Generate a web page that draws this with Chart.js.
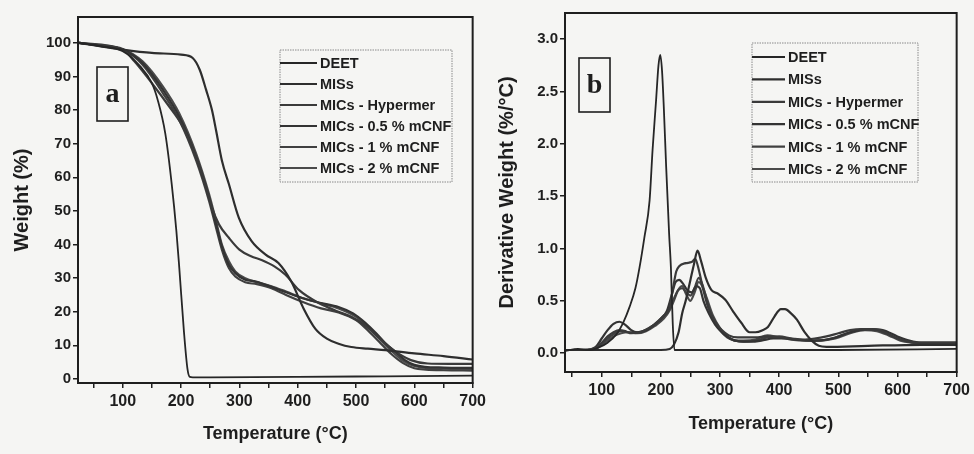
<!DOCTYPE html>
<html>
<head>
<meta charset="utf-8">
<script src="https://cdn.jsdelivr.net/npm/chart.js@4.4.1/dist/chart.umd.min.js"></script>
<style>
  html, body { margin: 0; padding: 0; background: #f5f5f3; }
  #wrap { position: relative; width: 974px; height: 454px; overflow: hidden; }
  #tga { position: absolute; left: 0; top: 0; }
  #dtg { position: absolute; left: 490px; top: 0; }
</style>
</head>
<body>
<div id="wrap">
  <canvas id="tga" width="490" height="454"></canvas>
  <canvas id="dtg" width="484" height="454"></canvas>
</div>
<script>
// ================= Data =================
const seriesNames = ["DEET", "MISs", "MICs - Hypermer", "MICs - 0.5 % mCNF", "MICs - 1 % mCNF", "MICs - 2 % mCNF"];
const seriesColors = ["#262626", "#2e2e2e", "#3a3a3a", "#333333", "#404040", "#4a4a4a"];

const xTicks = [50, 100, 150, 200, 250, 300, 350, 400, 450, 500, 550, 600, 650, 700];
const xTickLabels = [100, 200, 300, 400, 500, 600, 700];
const tgaYTicks = [0, 10, 20, 30, 40, 50, 60, 70, 80, 90, 100];
const dtgYTicks = [0, 0.5, 1.0, 1.5, 2.0, 2.5, 3.0];

// (a) weight %
const tgaDeetT = [25, 60, 100, 130, 150, 160, 173, 184, 192, 197, 205, 211, 215, 220, 250, 400, 550, 700];
const tgaDeetW = [100, 99, 97.5, 93, 88, 83, 73, 58, 44, 33, 14, 3, 0.6, 0.5, 0.5, 0.6, 0.8, 1.0];
const tgaMisT = [25, 100, 150, 200, 220, 232, 243, 253, 260, 270, 282, 299, 321, 345, 367, 389, 410, 430, 450, 470, 492, 520, 550, 600, 650, 700];
const tgaMisW = [100, 98, 97, 96.5, 95.5, 92, 86, 80, 74, 65, 58, 48, 41, 37, 34.5, 29, 21, 15, 12, 10.5, 9.5, 9, 8.6, 7.6, 6.8, 5.8];
const tgaHypT = [25, 100, 120, 150, 180, 200, 214, 230, 243, 253, 265, 282, 300, 320, 338, 360, 379, 402, 436, 470, 492, 515, 538, 565, 594, 623, 660, 700];
const tgaHypW = [100, 98, 94.5, 88, 81, 76, 71, 64, 57, 51, 46, 42, 38.5, 36.5, 35.4, 33.5, 31, 26.5, 22.6, 20, 18.5, 16, 12.5, 8.5, 5.6, 4.6, 4.5, 4.5];
const tga05T = [25, 60, 100, 134, 169, 197, 226, 248, 260, 270, 282, 293, 310, 328, 355, 380, 413, 440, 470, 495, 516, 535, 550, 568, 584, 600, 618, 650, 700];
const tga05W = [100, 99.2, 98, 94, 86, 78, 66, 54, 46, 39.5, 34, 31.5, 29.5, 29, 27.4, 25.8, 23.8, 22.6, 21.4, 19.5, 16.7, 13.5, 10.7, 8, 5.6, 4.2, 3.6, 3.4, 3.3];
const tgaMicT = [25, 60, 100, 134, 169, 197, 226, 248, 260, 270, 282, 293, 310, 330, 355, 380, 410, 440, 470, 500, 520, 540, 560, 580, 600, 620, 650, 700];
const tga1W = [100, 99.2, 98, 93.5, 85, 77, 65, 53, 45, 38.5, 33, 30.5, 28.8, 28.2, 27, 25, 22.8, 21, 19.8, 17.5, 14.5, 11, 7.5, 4.8, 3.2, 2.8, 2.6, 2.5];
const tga2W = [100, 99.3, 98.2, 94.5, 87, 79, 67, 55, 47, 40, 35, 32, 30, 28.8, 27.6, 26, 24, 22.5, 21, 18.5, 15.5, 12, 8.5, 5.5, 3.9, 3.3, 3.1, 3.0];

// (b) derivative weight %/°C
const dtgDeetT = [38, 60, 80, 97, 110, 125, 137, 147, 157, 164, 172, 181, 186, 192, 196, 199, 202, 205, 209, 214, 217, 220, 223, 300, 500, 700];
const dtgDeetY = [0.02, 0.04, 0.03, 0.06, 0.1, 0.18, 0.3, 0.44, 0.62, 0.82, 1.1, 1.46, 1.94, 2.42, 2.75, 2.85, 2.7, 2.35, 1.78, 1.14, 0.82, 0.3, 0.03, 0.03, 0.03, 0.04];
const dtgMisT = [38, 100, 150, 200, 215, 222, 230, 236, 242, 250, 256, 262, 268, 276, 286, 296, 309, 322, 336, 350, 360, 372, 381, 392, 403, 410, 420, 430, 443, 455, 467, 480, 550, 640, 700];
const dtgMisY = [0.03, 0.03, 0.03, 0.03, 0.04, 0.08, 0.2, 0.38, 0.5, 0.7, 0.85, 0.98, 0.88, 0.72, 0.6, 0.57, 0.51, 0.4, 0.29, 0.2, 0.2, 0.22, 0.25, 0.35, 0.42, 0.42, 0.38, 0.32, 0.2, 0.12, 0.07, 0.06, 0.07, 0.08, 0.08];
const dtgHypT = [38, 70, 90, 100, 110, 120, 130, 140, 150, 165, 180, 195, 205, 214, 220, 226, 231, 242, 252, 258, 264, 272, 281, 292, 303, 315, 330, 345, 360, 380, 400, 420, 440, 460, 480, 500, 520, 540, 555, 570, 585, 600, 620, 640, 700];
const dtgHypY = [0.03, 0.03, 0.05, 0.1, 0.16, 0.2, 0.22, 0.21, 0.19, 0.2, 0.24, 0.3, 0.36, 0.42, 0.6, 0.78, 0.83, 0.86, 0.87, 0.9, 0.8, 0.6, 0.42, 0.3, 0.22, 0.17, 0.15, 0.15, 0.15, 0.16, 0.15, 0.14, 0.13, 0.14, 0.16, 0.19, 0.22, 0.23, 0.23, 0.22, 0.18, 0.14, 0.11, 0.1, 0.1];
const dtg05T = [38, 70, 90, 100, 110, 120, 130, 140, 150, 160, 175, 190, 200, 210, 218, 225, 231, 238, 245, 252, 260, 266, 272, 281, 292, 303, 315, 326, 340, 353, 370, 390, 410, 430, 460, 490, 520, 550, 575, 600, 620, 640, 700];
const dtg05Y = [0.03, 0.03, 0.06, 0.14, 0.22, 0.28, 0.3, 0.27, 0.22, 0.2, 0.22, 0.28, 0.33, 0.4, 0.55, 0.68, 0.7, 0.66, 0.6, 0.58, 0.64, 0.62, 0.5, 0.38, 0.27, 0.2, 0.15, 0.12, 0.11, 0.11, 0.12, 0.14, 0.14, 0.13, 0.12, 0.14, 0.2, 0.23, 0.22, 0.16, 0.12, 0.1, 0.1];
const dtgMicT = [38, 70, 90, 100, 110, 120, 133, 145, 160, 175, 190, 205, 215, 222, 229, 236, 243, 250, 257, 264, 270, 278, 288, 300, 312, 326, 340, 360, 380, 400, 420, 445, 470, 495, 520, 545, 565, 585, 605, 625, 645, 700];
const dtg1Y = [0.03, 0.03, 0.05, 0.09, 0.14, 0.18, 0.21, 0.2, 0.2, 0.22, 0.27, 0.35, 0.43, 0.52, 0.6, 0.62, 0.58, 0.55, 0.62, 0.72, 0.66, 0.5, 0.33, 0.22, 0.15, 0.12, 0.11, 0.12, 0.15, 0.16, 0.14, 0.12, 0.12, 0.15, 0.2, 0.23, 0.22, 0.18, 0.13, 0.1, 0.09, 0.09];
const dtg2Y = [0.03, 0.03, 0.04, 0.08, 0.12, 0.16, 0.19, 0.2, 0.19, 0.21, 0.26, 0.33, 0.41, 0.5, 0.6, 0.64, 0.56, 0.5, 0.58, 0.68, 0.64, 0.52, 0.36, 0.24, 0.16, 0.12, 0.12, 0.13, 0.17, 0.15, 0.13, 0.12, 0.12, 0.14, 0.19, 0.22, 0.21, 0.17, 0.12, 0.1, 0.09, 0.09];

// ================= Helpers =================
const FONT = "'Liberation Sans Narrow', 'Liberation Sans', Arial, sans-serif";
const INK = "#1e1e1e";

const pts = (xs, ys) => xs.map((x, i) => ({ x: x, y: ys[i] }));

function makeSets(pairs) {
  return pairs.map((p, i) => ({
    label: seriesNames[i],
    data: pts(p[0], p[1]),
    borderColor: seriesColors[i],
    borderWidth: i === 0 ? 1.8 : 2.2,
    pointRadius: 0,
    cubicInterpolationMode: "monotone",
    fill: false
  }));
}

// frame, legend, panel letter
const decor = {
  id: "decor",
  afterDraw(chart, args, o) {
    const ctx = chart.ctx;
    const a = chart.chartArea;
    ctx.save();
    ctx.strokeStyle = INK;
    ctx.lineWidth = 2;
    ctx.strokeRect(a.left, a.top, a.right - a.left, a.bottom - a.top);

    // letter box
    ctx.lineWidth = 1.6;
    ctx.strokeRect(o.tag.x, o.tag.y, o.tag.w, o.tag.h);
    ctx.fillStyle = INK;
    ctx.font = "bold 28px 'Liberation Serif', serif";
    ctx.textAlign = "center";
    ctx.textBaseline = "middle";
    ctx.fillText(o.tag.text, o.tag.x + o.tag.w / 2, o.tag.y + o.tag.h / 2 + 1);

    // legend
    const L = o.legend;
    ctx.strokeStyle = "#8a8a8a";
    ctx.lineWidth = 1;
    ctx.setLineDash([1.5, 1]);
    ctx.strokeRect(L.x, L.y, L.w, L.h);
    ctx.setLineDash([]);
    ctx.font = "bold 14.5px " + FONT;
    ctx.textAlign = "left";
    chart.data.datasets.forEach((ds, i) => {
      const y = L.firstRow + i * L.step;
      ctx.strokeStyle = ds.borderColor;
      ctx.lineWidth = 2.2;
      ctx.beginPath();
      ctx.moveTo(L.x, y);
      ctx.lineTo(L.x + L.lineLen, y);
      ctx.stroke();
      ctx.fillStyle = INK;
      ctx.fillText(ds.label, L.x + L.lineLen + 3, y + 1);
    });
    ctx.restore();
  }
};

function makeChart(id, sets, cfg) {
  return new Chart(document.getElementById(id), {
    type: "line",
    data: { datasets: sets },
    plugins: [decor],
    options: {
      responsive: false,
      animation: false,
      devicePixelRatio: 1,
      layout: { padding: { left: 0, top: cfg.top, right: cfg.right, bottom: 0 } },
      plugins: { legend: { display: false }, tooltip: { enabled: false }, decor: cfg.decor },
      scales: {
        x: {
          type: "linear",
          min: cfg.xMin,
          max: 700,
          afterBuildTicks: s => { s.ticks = xTicks.map(v => ({ value: v })); },
          afterFit: s => { s.height = cfg.xHeight; },
          ticks: {
            autoSkip: false, maxRotation: 0, padding: 4, color: INK,
            font: { family: FONT, size: 16, weight: "bold" },
            callback: v => xTickLabels.includes(v) ? String(v) : ""
          },
          grid: { drawOnChartArea: false, tickLength: 5, color: INK, lineWidth: 1.5 },
          border: { color: INK, width: 2 },
          title: {
            display: true, text: "Temperature (°C)", color: INK,
            font: { family: FONT, size: 18, weight: "bold" },
            padding: { top: 0, bottom: cfg.xTitlePad }
          }
        },
        y: {
          type: "linear",
          min: cfg.yMin,
          max: cfg.yMax,
          afterBuildTicks: s => { s.ticks = cfg.yTicks.map(v => ({ value: v })); },
          afterFit: s => { s.width = cfg.yWidth; },
          ticks: {
            padding: 2, color: INK,
            font: { family: FONT, size: 15, weight: "bold" },
            callback: cfg.yFmt
          },
          grid: { drawOnChartArea: false, tickLength: 5, color: INK, lineWidth: 1.5 },
          border: { color: INK, width: 2 },
          title: {
            display: true, text: cfg.yTitle, color: INK,
            font: { family: FONT, size: 20, weight: "bold" },
            padding: { top: cfg.yTitlePad, bottom: 0 }
          }
        }
      }
    }
  });
}

// ================= Panel a =================
makeChart("tga", makeSets([
  [tgaDeetT, tgaDeetW], [tgaMisT, tgaMisW], [tgaHypT, tgaHypW],
  [tga05T, tga05W], [tgaMicT, tga1W], [tgaMicT, tga2W]
]), {
  top: 17, right: 15, xHeight: 71, yWidth: 78, xMin: 23.3, yMin: -1.2, yMax: 107.7,
  yTicks: tgaYTicks, yFmt: v => String(v), yTitle: "Weight (%)",
  xTitlePad: 9, yTitlePad: 10,
  decor: {
    tag: { x: 97, y: 67, w: 31, h: 54, text: "a" },
    legend: { x: 280, y: 50, w: 172, h: 132, firstRow: 63, step: 21, lineLen: 37 }
  }
});

// ================= Panel b =================
makeChart("dtg", makeSets([
  [dtgDeetT, dtgDeetY], [dtgMisT, dtgMisY], [dtgHypT, dtgHypY],
  [dtg05T, dtg05Y], [dtgMicT, dtg1Y], [dtgMicT, dtg2Y]
]), {
  top: 13, right: 14, xHeight: 82, yWidth: 75, xMin: 38, yMin: -0.18, yMax: 3.25,
  yTicks: dtgYTicks, yFmt: v => v.toFixed(1), yTitle: "Derivative Weight (%/°C)",
  xTitlePad: 19, yTitlePad: 5,
  decor: {
    tag: { x: 89, y: 58, w: 31, h: 54, text: "b" },
    legend: { x: 262, y: 43, w: 166, h: 139, firstRow: 57, step: 22.4, lineLen: 33 }
  }
});
</script>
</body>
</html>
